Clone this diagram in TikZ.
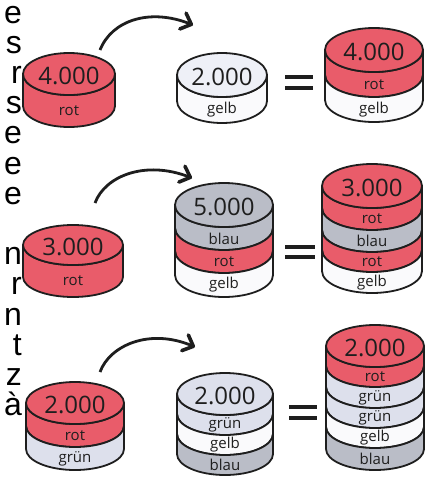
\documentclass[tikz,border=0pt]{standalone}
\usepackage{fontspec}
\setmainfont{Open Sans}
\newfontfamily\randfont{Liberation Sans}
\usetikzlibrary{arrows.meta}

\definecolor{rot}{RGB}{233,92,106}
\definecolor{blau}{RGB}{186,189,199}
\definecolor{gruen}{RGB}{221,224,236}
\definecolor{gelb}{RGB}{250,250,252}
\definecolor{hell}{RGB}{238,240,247}
\definecolor{ink}{RGB}{30,30,30}

% one ring of a stack: name, x, top y, x radius, y radius, height, colour, text
\newcommand\ring[8]{%
  \filldraw[wall,fill=#7] (#2-#4,#3) -- (#2-#4,#3+#6)
    arc[start angle=180,end angle=0,x radius=#4,y radius=#5] -- (#2+#4,#3)
    arc[start angle=0,end angle=180,x radius=#4,y radius=#5] -- cycle;
  \node[lbl] (#1) at (#2,#3+#5+#6/2) {#8};}
% lid of a stack: name, x, y, x radius, y radius, colour, value
\newcommand\lid[7]{%
  \filldraw[wall,fill=#6] (#2,#3) ellipse[x radius=#4,y radius=#5];
  \node[num] (#1) at (#2,#3+2) {#7};}

\begin{document}
\begin{tikzpicture}[x=1pt,y=-1pt]
        \tikzstyle{wall}=[draw=ink,line width=1.8pt,line join=round]
        \tikzstyle{lbl}=[inner sep=0pt,text=ink,font=\fontsize{15}{15}\selectfont]
        \tikzstyle{num}=[inner sep=0pt,text=ink,font=\fontsize{24}{24}\selectfont]
        \tikzstyle{hop}=[-{Straight Barb[length=9pt,width=17pt,line width=3.6pt,round]},line width=2.8pt,draw=ink]
        \tikzstyle{eqbar}=[line width=3.5pt,draw=ink]
        \tikzstyle{randletter}=[anchor=base east,inner sep=0pt,text height=17pt,text depth=0pt,text=black,font=\randfont\fontsize{32}{32}\selectfont]
        \useasboundingbox (0,0) rectangle (434,483);

        \foreach \t/\k in {e/0,s/1,r/2,s/3,e/4,e/5,e/6,n/8,r/9,n/10,t/11,z/12,à/13}
            \node[randletter] (c\k) at (22,23+30.2*\k) {\t};

        \ring{l1a}{69}{74}{46}{21}{32}{rot}{rot}
        \lid{l1}{69}{74}{46}{21}{rot}{4.000}
        \ring{m1a}{222}{75}{45}{22}{26}{gelb}{gelb}
        \lid{m1}{222}{75}{45}{22}{hell}{2.000}
        \ring{r1a}{374}{50}{49}{22}{25}{rot}{rot}
        \ring{r1b}{374}{75}{49}{22}{25}{gelb}{gelb}
        \lid{r1}{374}{50}{49}{22}{rot}{4.000}

        \ring{l2a}{73}{245}{50}{20}{32}{rot}{rot}
        \lid{l2}{73}{245}{50}{20}{rot}{3.000}
        \ring{m2a}{224}{205}{49}{22}{23}{blau}{blau}
        \ring{m2b}{224}{228}{49}{22}{23}{rot}{rot}
        \ring{m2c}{224}{251}{49}{22}{24}{gelb}{gelb}
        \lid{m2}{224}{205}{49}{22}{blau}{5.000}
        \ring{r2a}{372}{186}{50}{22}{22}{rot}{rot}
        \ring{r2b}{372}{208}{50}{22}{22}{blau}{blau}
        \ring{r2c}{372}{230}{50}{22}{20}{rot}{rot}
        \ring{r2d}{372}{250}{50}{22}{21}{gelb}{gelb}
        \lid{r2}{372}{186}{50}{22}{rot}{3.000}

        \ring{l3a}{75}{403}{49}{21}{23}{rot}{rot}
        \ring{l3b}{75}{426}{49}{21}{23}{gruen}{grün}
        \lid{l3}{75}{403}{49}{21}{rot}{2.000}
        \ring{m3a}{225}{394}{48}{21}{20}{gruen}{grün}
        \ring{m3b}{225}{414}{48}{21}{20}{gelb}{gelb}
        \ring{m3c}{225}{434}{48}{21}{20}{blau}{blau}
        \lid{m3}{225}{394}{48}{21}{gruen}{2.000}
        \ring{r3a}{375}{346}{49}{21}{20}{rot}{rot}
        \ring{r3b}{375}{366}{49}{21}{21}{gruen}{grün}
        \ring{r3c}{375}{387}{49}{21}{20}{gruen}{grün}
        \ring{r3d}{375}{407}{49}{21}{20}{gelb}{gelb}
        \ring{r3e}{375}{427}{49}{21}{22}{blau}{blau}
        \lid{r3}{375}{346}{49}{21}{rot}{2.000}

        \coordinate (s1) at (100,50);  \coordinate (e1) at (193,25);
        \coordinate (s2) at (95,203);  \coordinate (e2) at (192,178);
        \coordinate (s3) at (100,372); \coordinate (e3) at (195,347);
        \draw[hop] (s1) .. controls (112,20) and (150,8) .. (e1);
        \draw[hop] (s2) .. controls (105,176) and (145,160) .. (e2);
        \draw[hop] (s3) .. controls (110,345) and (150,328) .. (e3);

        \draw[eqbar] (285,77) -- (313,77) (285,88) -- (313,88);
        \draw[eqbar] (285,247) -- (315,247) (285,257) -- (315,257);
        \draw[eqbar] (289,407) -- (317,407) (289,418) -- (317,418);
\end{tikzpicture}
\end{document}
